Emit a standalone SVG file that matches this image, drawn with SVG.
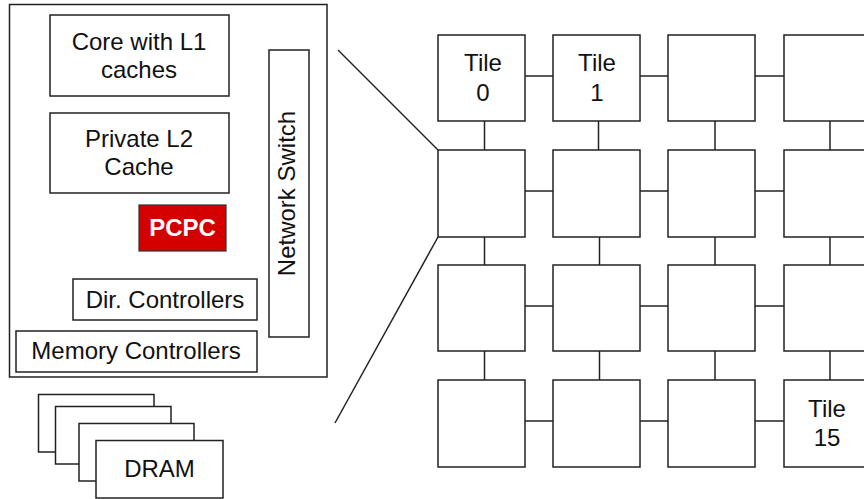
<svg xmlns="http://www.w3.org/2000/svg" width="864" height="499" viewBox="0 0 864 499">
<style>
.box{fill:#fff;stroke:#222;stroke-width:1.5}
.t{font-family:"Liberation Sans",Arial,sans-serif;font-size:24px;fill:#111;text-anchor:middle}
.conn line{stroke:#222;stroke-width:1.5}
</style>
<rect width="864" height="499" fill="#fff"/>
<g id="chip">
<rect class="box" x="9.5" y="4.5" width="317.5" height="372.5"/>
</g>
<g id="core"><rect class="box" x="50" y="15" width="179" height="81"/>
<text class="t" x="139" y="49.5">Core with L1</text><text class="t" x="139" y="77.5">caches</text></g>
<g id="l2"><rect class="box" x="50" y="113" width="179" height="80"/>
<text class="t" x="139" y="147">Private L2</text><text class="t" x="139" y="175">Cache</text></g>
<g id="pcpc"><rect x="139" y="205" width="87" height="46" fill="#d40000" stroke="#333" stroke-width="1.2"/>
<text class="t" x="182.5" y="235.5" style="fill:#fff;font-weight:bold">PCPC</text></g>
<g id="switch"><rect class="box" x="269" y="50" width="40" height="287"/>
<text class="t" transform="translate(295,193.5) rotate(-90)">Network Switch</text></g>
<g id="dir"><rect class="box" x="73" y="279" width="184" height="41"/>
<text class="t" x="165" y="307.5">Dir. Controllers</text></g>
<g id="mem"><rect class="box" x="16" y="331" width="241" height="41"/>
<text class="t" x="136" y="358.5">Memory Controllers</text></g>
<g id="dram">
<rect class="box" x="38.5" y="394.5" width="115.5" height="57.5"/>
<rect class="box" x="55.5" y="406.5" width="115.5" height="57.5"/>
<rect class="box" x="79" y="423.5" width="115" height="57.5"/>
<rect class="box" x="96" y="440.5" width="127" height="57.5"/>
<text class="t" x="159.5" y="477">DRAM</text>
</g>
<g class="conn" id="connectors">
<line x1="338" y1="50" x2="438" y2="150"/>
<line x1="438" y1="237" x2="335" y2="423"/>
<line x1="525" y1="76" x2="553" y2="76"/><line x1="640" y1="76" x2="668" y2="76"/><line x1="755" y1="76" x2="784" y2="76"/>
<line x1="525" y1="191" x2="553" y2="191"/><line x1="640" y1="191" x2="668" y2="191"/><line x1="755" y1="191" x2="784" y2="191"/>
<line x1="525" y1="306" x2="553" y2="306"/><line x1="640" y1="306" x2="668" y2="306"/><line x1="755" y1="306" x2="784" y2="306"/>
<line x1="525" y1="421" x2="553" y2="421"/><line x1="640" y1="421" x2="668" y2="421"/><line x1="755" y1="421" x2="784" y2="421"/>
<line x1="484.5" y1="121" x2="484.5" y2="150"/><line x1="598.5" y1="121" x2="598.5" y2="150"/><line x1="715" y1="121" x2="715" y2="150"/><line x1="830" y1="121" x2="830" y2="150"/>
<line x1="484.5" y1="237" x2="484.5" y2="265"/><line x1="599.5" y1="237" x2="599.5" y2="265"/><line x1="715" y1="237" x2="715" y2="265"/><line x1="830" y1="237" x2="830" y2="265"/>
<line x1="484.5" y1="351" x2="484.5" y2="380"/><line x1="599.5" y1="351" x2="599.5" y2="380"/><line x1="715" y1="351" x2="715" y2="380"/><line x1="830" y1="351" x2="830" y2="380"/>
</g>
<g id="tile0"><rect class="box" x="438" y="35" width="87" height="86"/><text class="t" x="483" y="71">Tile</text><text class="t" x="483" y="101">0</text></g>
<g id="tile1"><rect class="box" x="553" y="35" width="87" height="86"/><text class="t" x="597" y="71">Tile</text><text class="t" x="597" y="101">1</text></g>
<g id="tile2"><rect class="box" x="668" y="35" width="87" height="86"/></g>
<g id="tile3"><rect class="box" x="784" y="35" width="87" height="86"/></g>
<g id="tile4"><rect class="box" x="438" y="150" width="87" height="87"/></g>
<g id="tile5"><rect class="box" x="553" y="150" width="87" height="87"/></g>
<g id="tile6"><rect class="box" x="668" y="150" width="87" height="87"/></g>
<g id="tile7"><rect class="box" x="784" y="150" width="87" height="87"/></g>
<g id="tile8"><rect class="box" x="438" y="265" width="87" height="86"/></g>
<g id="tile9"><rect class="box" x="553" y="265" width="87" height="86"/></g>
<g id="tile10"><rect class="box" x="668" y="265" width="87" height="86"/></g>
<g id="tile11"><rect class="box" x="784" y="265" width="87" height="86"/></g>
<g id="tile12"><rect class="box" x="438" y="380" width="87" height="87"/></g>
<g id="tile13"><rect class="box" x="553" y="380" width="87" height="87"/></g>
<g id="tile14"><rect class="box" x="668" y="380" width="87" height="87"/></g>
<g id="tile15"><rect class="box" x="784" y="380" width="87" height="87"/><text class="t" x="827" y="417">Tile</text><text class="t" x="827" y="445.5">15</text></g>
</svg>
